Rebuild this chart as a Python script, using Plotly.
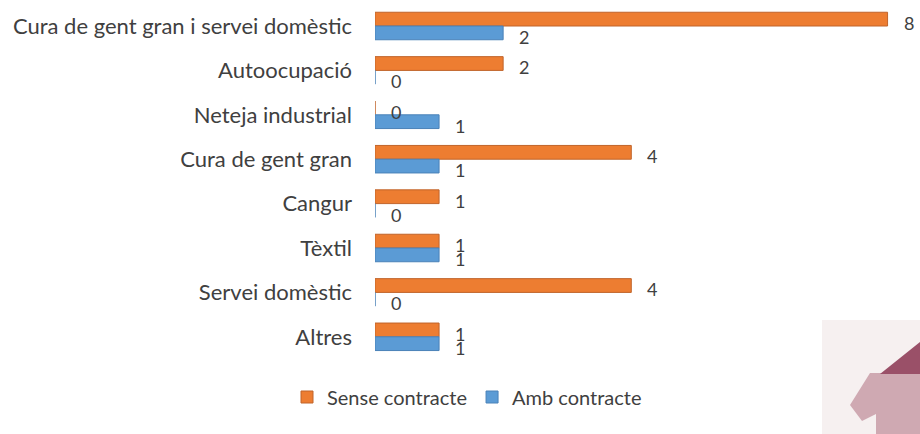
import plotly.graph_objects as go

categories = ["Cura de gent gran i servei domèstic", "Autoocupació", "Neteja industrial",
              "Cura de gent gran", "Cangur", "Tèxtil", "Servei domèstic", "Altres"]
sense_contracte = [8, 2, 0, 4, 1, 1, 4, 1]
amb_contracte = [2, 0, 1, 1, 0, 1, 0, 1]

font_fam = "Lato, 'Open Sans', sans-serif"
txt_col = "#404040"

L, R, T, B, W, H = 375, 10, 2, 75, 920, 434
PW, PH = W - L - R, H - T - B


def px(x):
    return (x - L) / PW


def py(y):
    return (H - B - y) / PH


fig = go.Figure()
fig.add_trace(go.Bar(
    y=categories, x=sense_contracte, name="Sense contracte", orientation="h",
    marker=dict(color="#ED7D31", line=dict(color="#C0642A", width=1)),
))
fig.add_trace(go.Bar(
    y=categories, x=amb_contracte, name="Amb contracte", orientation="h",
    marker=dict(color="#5B9BD5", line=dict(color="#4A82B8", width=1)),
))

annotations = []
for series, ysh in ((sense_contracte, 3), (amb_contracte, -11)):
    for cat, v in zip(categories, series):
        annotations.append(dict(
            x=v, y=cat, xref="x", yref="y", text=str(v), showarrow=False,
            xanchor="left", yanchor="middle", xshift=14, yshift=ysh,
            font=dict(size=18, color=txt_col, family=font_fam),
        ))

logo_shirt = "M {} {} L {} {} L {} {} L {} {} L {} {} L {} {} L {} {} Z".format(
    px(870), py(373), px(920), py(373), px(920), py(434), px(876), py(434),
    px(876), py(414), px(862), py(421), px(850), py(405))
logo_roof = "M {} {} L {} {} L {} {} Z".format(px(880), py(374), px(920), py(342), px(920), py(374))

fig.update_layout(
    width=W, height=H,
    margin=dict(l=L, r=R, t=T, b=B),
    barmode="group", bargap=0.38, bargroupgap=0,
    plot_bgcolor="white", paper_bgcolor="white",
    font=dict(family=font_fam, color=txt_col, size=22),
    xaxis=dict(range=[0, 8.35], visible=False),
    yaxis=dict(autorange="reversed", showline=False, showgrid=False, ticks="",
               ticklabelstandoff=22, tickfont=dict(size=22, color=txt_col)),
    legend=dict(orientation="h", x=px(467), xanchor="center", y=py(397), yanchor="middle",
                font=dict(size=20, color=txt_col), itemwidth=30, traceorder="normal"),
    showlegend=True,
    annotations=annotations,
    shapes=[
        dict(type="rect", xref="paper", yref="paper", x0=px(822), x1=px(922), y0=py(436), y1=py(320),
             fillcolor="#F6F0F0", line=dict(width=0), layer="below"),
        dict(type="path", xref="paper", yref="paper", path=logo_shirt,
             fillcolor="#CFA9B2", line=dict(width=0)),
        dict(type="path", xref="paper", yref="paper", path=logo_roof,
             fillcolor="#9A5068", line=dict(width=0)),
    ],
)

fig.write_html("out.html", config={"displayModeBar": False},
               post_script="document.body.style.margin='0';")
